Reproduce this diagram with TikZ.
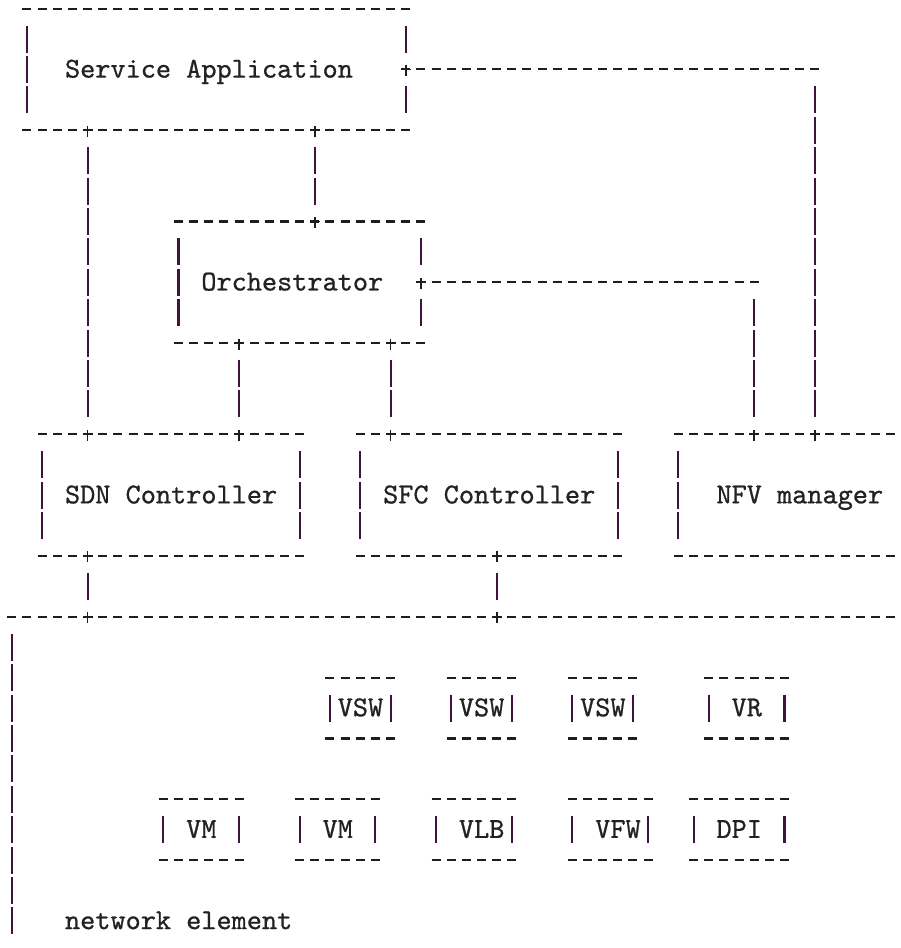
\documentclass[tikz,border=0pt]{standalone}
\usepackage{fontspec}
\newfontfamily\asciifont[FakeBold=0.8]{lmmono10-regular.otf}
\definecolor{pipecol}{RGB}{64,18,64}
\definecolor{dashcol}{RGB}{30,30,30}
\definecolor{txtcol}{RGB}{34,34,34}
\tikzset{
  hd/.style={draw=dashcol, line width=2.1pt, dash pattern=on 9pt off 6.15pt,
             shorten <=-4.5pt, shorten >=-4.5pt},
  vb/.style={draw=pipecol, line width=2.1pt, dash pattern=on 27pt off 3.41pt,
             shorten <=16.91pt, shorten >=16.91pt},
  lbl/.style={anchor=base west, inner sep=0pt, text=txtcol,
              font=\asciifont\fontsize{28.86pt}{30pt}\selectfont},
  plusmark/.pic={\draw[dashcol, line width=1.8pt] (-5pt,0pt) -- (5pt,0pt) (0pt,4.5pt) -- (0pt,-6.5pt);}
}
\newcommand{\asciibox}[6]{%
  \coordinate (#1TL) at (#2,#4); \coordinate (#1TR) at (#3,#4);
  \coordinate (#1BL) at (#2,#4+2); \coordinate (#1BR) at (#3,#4+2);
  \draw[hd] (#1TL) -- (#1TR); \draw[hd] (#1BL) -- (#1BR);
  \draw[vb] (#1TL) -- (#1BL); \draw[vb] (#1TR) -- (#1BR);
  \node[lbl] (#1) at ([yshift=-8.2pt]#5-0.5,#4+1) {#6};}
\begin{document}
\begin{tikzpicture}
\useasboundingbox (0,0) rectangle (900pt,-948pt);
\begin{scope}[shift={(11.8pt,-8.6pt)}, x=15.15pt, y=-30.41pt]
% Service Application
\coordinate (saTL) at (1,0); \coordinate (saTR) at (26,0);
\coordinate (saBL) at (1,4); \coordinate (saBR) at (26,4);
\coordinate (saR) at (26,2); \coordinate (saB1) at (5,4); \coordinate (saB2) at (20,4);
\draw[hd] (saTL) -- (saTR); \draw[hd] (saBL) -- (saBR);
\draw[vb] (saTL) -- (saBL); \draw[vb] (saTR) -- (saR); \draw[vb] (saR) -- (saBR);
\node[lbl] (sa) at ([yshift=-8.2pt]3.5,2) {Service Application};
% Orchestrator
\coordinate (orTL) at (11,7); \coordinate (orTR) at (27,7);
\coordinate (orBL) at (11,11); \coordinate (orBR) at (27,11);
\coordinate (orT) at (20,7); \coordinate (orR) at (27,9);
\coordinate (orB1) at (15,11); \coordinate (orB2) at (25,11);
\draw[hd] (orTL) -- (orTR); \draw[hd] (orBL) -- (orBR);
\draw[vb] (orTL) -- (orBL); \draw[vb] (orTR) -- (orR); \draw[vb] (orR) -- (orBR);
\node[lbl] (orch) at ([yshift=-8.2pt]12.5,9) {Orchestrator};
% SDN Controller
\coordinate (sdnTL) at (2,14); \coordinate (sdnTR) at (19,14);
\coordinate (sdnBL) at (2,18); \coordinate (sdnBR) at (19,18);
\coordinate (sdnT1) at (5,14); \coordinate (sdnT2) at (15,14); \coordinate (sdnB) at (5,18);
\draw[hd] (sdnTL) -- (sdnTR); \draw[hd] (sdnBL) -- (sdnBR);
\draw[vb] (sdnTL) -- (sdnBL); \draw[vb] (sdnTR) -- (sdnBR);
\node[lbl] (sdn) at ([yshift=-8.2pt]3.5,16) {SDN Controller};
% SFC Controller
\coordinate (sfcTL) at (23,14); \coordinate (sfcTR) at (40,14);
\coordinate (sfcBL) at (23,18); \coordinate (sfcBR) at (40,18);
\coordinate (sfcT) at (25,14); \coordinate (sfcB) at (32,18);
\draw[hd] (sfcTL) -- (sfcTR); \draw[hd] (sfcBL) -- (sfcBR);
\draw[vb] (sfcTL) -- (sfcBL); \draw[vb] (sfcTR) -- (sfcBR);
\node[lbl] (sfc) at ([yshift=-8.2pt]24.5,16) {SFC Controller};
% NFV manager
\coordinate (nfvTL) at (44,14); \coordinate (nfvTR) at (58,14);
\coordinate (nfvBL) at (44,18); \coordinate (nfvBR) at (58,18);
\coordinate (nfvT1) at (49,14); \coordinate (nfvT2) at (53,14);
\draw[hd] (nfvTL) -- (nfvTR); \draw[hd] (nfvBL) -- (nfvBR);
\draw[vb] (nfvTL) -- (nfvBL);
\node[lbl] (nfv) at ([yshift=-8.2pt]46.5,16) {NFV manager};
% network element
\coordinate (netL) at (0,20); \coordinate (netR) at (58,20);
\coordinate (netA) at (5,20); \coordinate (netB) at (32,20);
\coordinate (netEnd) at (0,31);
\draw[hd] (netL) -- (netR); \draw[vb] (netL) -- (netEnd);
\node[lbl] (ne) at ([yshift=-8.2pt]3.5,30) {network element};
% connectors
\coordinate (saCorner) at (53,2); \coordinate (orCorner) at (49,9);
\draw[vb] (saB1) -- (sdnT1);
\draw[vb] (saB2) -- (orT);
\draw[vb] (orB1) -- (sdnT2);
\draw[vb] (orB2) -- (sfcT);
\draw[hd] (saR) -- (saCorner); \draw[vb] (saCorner) -- (nfvT2);
\draw[hd] (orR) -- (orCorner); \draw[vb] (orCorner) -- (nfvT1);
\draw[vb] (sdnB) -- (netA);
\draw[vb] (sfcB) -- (netB);
% small boxes
\asciibox{vswA}{21}{25}{22}{22}{VSW}
\asciibox{vswB}{29}{33}{22}{30}{VSW}
\asciibox{vswC}{37}{41}{22}{38}{VSW}
\asciibox{vr}{46}{51}{22}{48}{VR}
\asciibox{vmA}{10}{15}{26}{12}{VM}
\asciibox{vmB}{19}{24}{26}{21}{VM}
\asciibox{vlb}{28}{33}{26}{30}{VLB}
\asciibox{vfw}{37}{42}{26}{39}{VFW}
\asciibox{dpi}{45}{51}{26}{47}{DPI}
% junction marks
\foreach \p in {saR,saB1,saB2,orT,orR,orB1,orB2,sdnT1,sdnT2,sfcT,nfvT1,nfvT2,sdnB,sfcB,netA,netB}
  \pic at (\p) {plusmark};
\end{scope}
\end{tikzpicture}
\end{document}
